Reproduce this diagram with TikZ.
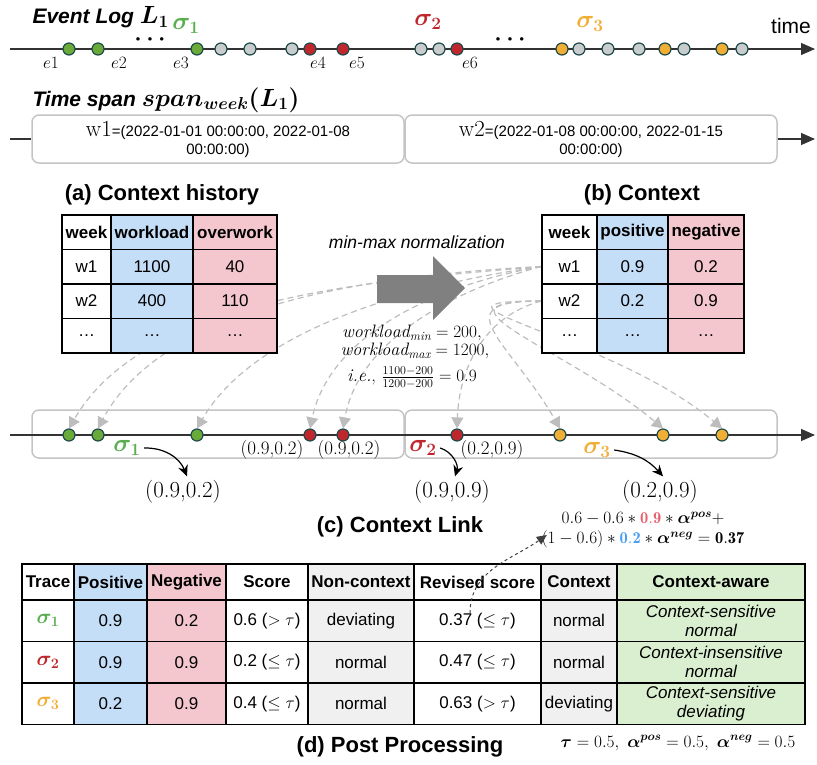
\documentclass[tikz,border=0pt]{standalone}
\usepackage{fontspec}
\setsansfont{Liberation Sans}
\usepackage{amsmath,bm}
\usetikzlibrary{arrows.meta}
\pgfdeclarelayer{background}
\pgfsetlayers{background,main}

\definecolor{evgreen}{HTML}{6AAA3A}
\definecolor{evred}{HTML}{C0272D}
\definecolor{evorange}{HTML}{F0AE35}
\definecolor{evgrey}{HTML}{C8CCCC}
\definecolor{evborder}{HTML}{1F4A4A}
\definecolor{sigmagreen}{HTML}{5AAE50}
\definecolor{cellblue}{HTML}{C5DEF7}
\definecolor{cellpink}{HTML}{F4C6CD}
\definecolor{cellgrey}{HTML}{F0F0F0}
\definecolor{cellgreen}{HTML}{DAEFD0}
\definecolor{linkgrey}{HTML}{BDBDBD}
\definecolor{boxgrey}{HTML}{C4C4C4}
\definecolor{arrowgrey}{HTML}{808080}
\definecolor{numred}{HTML}{E8606E}
\definecolor{numblue}{HTML}{4A9EF0}

\newcommand{\tabfont}{\sffamily\fontsize{17}{19}\selectfont}

\tikzset{
  ev/.style={circle, draw=evborder, line width=1.2pt, minimum size=12pt, inner sep=0pt},
  tcell/.style={draw=black, line width=1.5pt, inner sep=0pt, font=\tabfont, align=center},
  title/.style={font=\sffamily\bfseries\fontsize{22}{24}\selectfont},
  spanbox/.style={draw=boxgrey, line width=1.5pt, rounded corners=7pt, minimum width=372pt, minimum height=48pt, inner sep=0pt, align=center},
  ctxlink/.style={draw=linkgrey, line width=1.2pt, dash pattern=on 6pt off 4pt, -{Triangle[width=12pt,length=11pt]}},
  bendarrow/.style={line width=1.2pt, -{Stealth[length=11pt,width=10pt]}},
  timeline/.style={draw=black!80, line width=1.3pt, -{Triangle[width=12pt,length=14pt]}},
  elabel/.style={font=\fontsize{18}{18}\selectfont},
  sigma/.style={font=\fontsize{25}{26}\selectfont},
  mathline/.style={inner sep=0.5pt, font=\fontsize{18}{18}\selectfont},
  % table columns
  aweek/.style={tcell, minimum width=49pt, minimum height=34.5pt},
  awork/.style={tcell, fill=cellblue, minimum width=82pt, minimum height=34.5pt},
  aover/.style={tcell, fill=cellpink, minimum width=84pt, minimum height=34.5pt},
  bweek/.style={tcell, fill=white, minimum width=55pt, minimum height=34.5pt},
  bpos/.style={tcell, fill=cellblue, minimum width=71pt, minimum height=34.5pt},
  bneg/.style={tcell, fill=cellpink, minimum width=76pt, minimum height=34.5pt},
  dhead/.style={minimum height=36pt, font=\tabfont\bfseries},
  drow/.style={minimum height=41.5pt}
}

\begin{document}
\begin{tikzpicture}[x=1pt, y=1pt]
\useasboundingbox (0,0) rectangle (817,-764);

% ---- event log timeline
\coordinate (tl-start) at (10,-49);
\coordinate (tl-end) at (815,-49);
\draw[timeline] (tl-start) -- (tl-end);
\node[font=\sffamily\fontsize{21}{22}\selectfont] (time-label) at (791,-26) {time};
\node[anchor=west, font=\sffamily\bfseries\itshape\fontsize{21}{22}\selectfont] (eventlog-title) at (29,-17) {Event Log {\fontsize{24}{24}\selectfont$\bm{L_1}$}};

\node[ev, fill=evgreen] (ev1) at (69,-49) {};
\node[ev, fill=evgreen] (ev2) at (98,-49) {};
\node[ev, fill=evgreen] (ev3) at (197,-49) {};
\node[ev, fill=evgrey] (ev4) at (221,-49) {};
\node[ev, fill=evgrey] (ev5) at (250,-49) {};
\node[ev, fill=evgrey] (ev6) at (292,-49) {};
\node[ev, fill=evred] (ev7) at (310,-49) {};
\node[ev, fill=evred] (ev8) at (343,-49) {};
\node[ev, fill=evgrey] (ev9) at (421,-49) {};
\node[ev, fill=evgrey] (ev10) at (439,-49) {};
\node[ev, fill=evred] (ev11) at (457,-49) {};
\node[ev, fill=evorange] (ev12) at (562,-49) {};
\node[ev, fill=evgrey] (ev13) at (579,-49) {};
\node[ev, fill=evgrey] (ev14) at (608,-49) {};
\node[ev, fill=evgrey] (ev15) at (639,-49) {};
\node[ev, fill=evorange] (ev16) at (665,-49) {};
\node[ev, fill=evgrey] (ev17) at (684,-49) {};
\node[ev, fill=evorange] (ev18) at (722,-49) {};
\node[ev, fill=evgrey] (ev19) at (742,-49) {};

\node[font=\fontsize{13}{13}\selectfont] (dots1) at (150,-40) {\textbullet\hspace{2pt}\textbullet\hspace{2pt}\textbullet};
\node[font=\fontsize{13}{13}\selectfont] (dots2) at (510,-40) {\textbullet\hspace{2pt}\textbullet\hspace{2pt}\textbullet};

\node[elabel] (e1-label) at (51,-63) {$e1$};
\node[elabel] (e2-label) at (119,-63) {$e2$};
\node[elabel] (e3-label) at (181,-63) {$e3$};
\node[elabel] (e4-label) at (318,-63) {$e4$};
\node[elabel] (e5-label) at (357,-63) {$e5$};
\node[elabel] (e6-label) at (470,-63) {$e6$};

\node[sigma, text=sigmagreen] (top-sigma1) at (186,-26) {$\bm{\sigma_1}$};
\node[sigma, text=evred] (top-sigma2) at (428,-22) {$\bm{\sigma_2}$};
\node[sigma, text=evorange] (top-sigma3) at (590,-24) {$\bm{\sigma_3}$};

% ---- time span
\node[anchor=west, font=\sffamily\bfseries\itshape\fontsize{21}{22}\selectfont] (span-title) at (29,-100) {Time span {\fontsize{24}{24}\selectfont$\bm{span_{week}(L_1)}$}};
\node[spanbox, font=\sffamily\fontsize{15}{18}\selectfont] (span-w1) at (218,-139) {{\rmfamily\fontsize{23}{18}\selectfont w1}=(2022-01-01 00:00:00, 2022-01-08\\00:00:00)};
\node[spanbox, font=\sffamily\fontsize{15}{18}\selectfont] (span-w2) at (591,-139) {{\rmfamily\fontsize{23}{18}\selectfont w2}=(2022-01-08 00:00:00, 2022-01-15\\00:00:00)};
\coordinate (span-start) at (10,-139);
\coordinate (span-end) at (815,-139);
\draw[draw=black!80, line width=1.3pt] (span-start) -- (span-w1.west);
\draw[timeline] (span-w2.east) -- (span-end);

% ---- (a) context history
\node[title] (hist-title) at (162,-195) {(a) Context history};
\node[aweek, fill=white, font=\tabfont\bfseries] (a-week) at (86.5,-232) {week};
\node[awork, font=\tabfont\bfseries] (a-workload) at (152,-232) {workload};
\node[aover, font=\tabfont\bfseries] (a-overwork) at (235,-232) {overwork};
\node[aweek, fill=white] (a-w1) at (86.5,-266.5) {w1};
\node[awork] (a-w1-work) at (152,-266.5) {1100};
\node[aover] (a-w1-over) at (235,-266.5) {40};
\node[aweek, fill=white] (a-w2) at (86.5,-301) {w2};
\node[awork] (a-w2-work) at (152,-301) {400};
\node[aover] (a-w2-over) at (235,-301) {110};
\node[aweek, fill=white] (a-etc) at (86.5,-335.5) {…};
\node[awork] (a-etc-work) at (152,-335.5) {…};
\node[aover] (a-etc-over) at (235,-335.5) {…};

% ---- normalization
\node[font=\sffamily\itshape\fontsize{17.5}{19}\selectfont] (norm-label) at (417,-242) {min-max normalization};
\fill[arrowgrey] (377,-275) -- (433,-275) -- (433,-256) -- (465,-288) -- (433,-320) -- (433,-303) -- (377,-303) -- cycle;
\node[mathline] (norm-min) at (412,-333) {$\mathit{workload}_{\mathit{min}}=200,$};
\node[mathline] (norm-max) at (415,-351) {$\mathit{workload}_{\mathit{max}}=1200,$};
\node[mathline] (norm-ie) at (412,-378) {\textit{i.e.}, $\frac{1100-200}{1200-200}=0.9$};

% ---- (b) context
\node[title] (ctx-title) at (642,-195) {(b) Context};
\node[bweek, font=\tabfont\bfseries] (b-week) at (569.5,-232) {week};
\node[bpos, font=\tabfont\bfseries] (b-positive) at (632.5,-232) {positive};
\node[bneg, font=\tabfont\bfseries] (b-negative) at (706,-232) {negative};
\node[bweek] (b-w1) at (569.5,-266.5) {w1};
\node[bpos] (b-w1-pos) at (632.5,-266.5) {0.9};
\node[bneg] (b-w1-neg) at (706,-266.5) {0.2};
\node[bweek] (b-w2) at (569.5,-301) {w2};
\node[bpos] (b-w2-pos) at (632.5,-301) {0.2};
\node[bneg] (b-w2-neg) at (706,-301) {0.9};
\node[bweek] (b-etc) at (569.5,-335.5) {…};
\node[bpos] (b-etc-pos) at (632.5,-335.5) {…};
\node[bneg] (b-etc-neg) at (706,-335.5) {…};

% ---- (c) context link
\node[spanbox] (link-w1) at (218,-434) {};
\node[spanbox] (link-w2) at (591,-434) {};
\coordinate (lk-start) at (10,-435);
\coordinate (lk-end) at (815,-435);
\draw[timeline] (lk-start) -- (lk-end);
\node[ev, fill=evgreen] (lk1) at (69,-435) {};
\node[ev, fill=evgreen] (lk2) at (98,-435) {};
\node[ev, fill=evgreen] (lk3) at (197,-435) {};
\node[ev, fill=evred] (lk4) at (310,-435) {};
\node[ev, fill=evred] (lk5) at (343,-435) {};
\node[ev, fill=evred] (lk6) at (457,-435) {};
\node[ev, fill=evorange] (lk7) at (560,-435) {};
\node[ev, fill=evorange] (lk8) at (663,-435) {};
\node[ev, fill=evorange] (lk9) at (722,-435) {};

\begin{pgfonlayer}{background}
\draw[ctxlink] (b-w1.west) to[out=185, in=60, looseness=0.8] (lk1.north);
\draw[ctxlink] (b-w1.west) to[out=183, in=62, looseness=0.8] (lk2.north);
\draw[ctxlink] (b-w1.west) to[out=188, in=60, looseness=0.8] (lk3.north);
\draw[ctxlink] (b-w1.west) to[out=190, in=78, looseness=0.9] (lk4.north);
\draw[ctxlink] (b-w1.west) to[out=195, in=80, looseness=0.9] (lk5.north);
\draw[ctxlink] (b-w2.west) to[out=195, in=88, looseness=1] (lk6.north);
\draw[ctxlink] (b-w2.west) to[out=180, in=120, looseness=2] (lk7.north);
\draw[ctxlink] (b-w2.west) to[out=180, in=140, looseness=1.8] (lk8.north);
\draw[ctxlink] (b-w2.west) to[out=180, in=140, looseness=1.7] (lk9.north);
\end{pgfonlayer}

\node[inner sep=1pt, font=\fontsize{19}{19}\selectfont] (lk4-value) at (272,-450) {(0.9,0.2)};
\node[inner sep=1pt, font=\fontsize{19}{19}\selectfont] (lk5-value) at (349,-450) {(0.9,0.2)};
\node[inner sep=1pt, font=\fontsize{19}{19}\selectfont] (lk6-value) at (492,-450) {(0.2,0.9)};

\node[sigma, text=sigmagreen] (link-sigma1) at (127,-448) {$\bm{\sigma_1}$};
\node[sigma, text=evred] (link-sigma2) at (423,-448) {$\bm{\sigma_2}$};
\node[sigma, text=evorange] (link-sigma3) at (597,-450) {$\bm{\sigma_3}$};
\node[inner sep=1pt, font=\fontsize{23}{23}\selectfont] (pair1) at (183,-492) {(0.9,0.2)};
\node[inner sep=1pt, font=\fontsize{23}{23}\selectfont] (pair2) at (452,-492) {(0.9,0.9)};
\node[inner sep=1pt, font=\fontsize{23}{23}\selectfont] (pair3) at (660,-492) {(0.2,0.9)};
\draw[bendarrow] (link-sigma1.east) to[bend left=35] ([xshift=4pt, yshift=3pt]pair1.north);
\draw[bendarrow] (link-sigma2.east) to[bend left=45] ([xshift=3pt, yshift=3pt]pair2.north);
\draw[bendarrow] (link-sigma3.east) to[bend left=20] ([xshift=3pt, yshift=3pt]pair3.north);

\node[title] (link-title) at (400,-527) {(c) Context Link};
\node[align=center, inner sep=0.5pt, font=\fontsize{16.5}{20}\selectfont] (score-formula) at (643,-530) {$0.6-0.6*\textcolor{numred}{\mathbf{0.9}}*\bm{\alpha^{pos}}+$\\$(1-0.6)*\textcolor{numblue}{\mathbf{0.2}}*\bm{\alpha^{neg}}=\mathbf{0.37}$};

% ---- (d) post processing
\node[tcell, dhead, fill=white, minimum width=52pt] (d-trace) at (48,-582) {Trace};
\node[tcell, dhead, fill=cellblue, minimum width=73pt] (d-positive) at (110.5,-582) {Positive};
\node[tcell, dhead, fill=cellpink, minimum width=79pt] (d-negative) at (186.5,-582) {Negative};
\node[tcell, dhead, fill=white, minimum width=82pt] (d-score) at (267,-582) {Score};
\node[tcell, dhead, fill=cellgrey, minimum width=106pt] (d-noncontext) at (361,-582) {Non-context};
\node[tcell, dhead, fill=white, minimum width=127pt] (d-revised) at (477.5,-582) {Revised score};
\node[tcell, dhead, fill=cellgrey, minimum width=76pt] (d-context) at (579,-582) {Context};
\node[tcell, dhead, fill=cellgreen, minimum width=188pt] (d-aware) at (711,-582) {Context-aware};

\node[tcell, drow, fill=white, minimum width=52pt, text=sigmagreen, font=\fontsize{21}{21}\selectfont] (d-s1) at (48,-620.75) {$\bm{\sigma_1}$};
\node[tcell, drow, fill=cellblue, minimum width=73pt] (d-s1-pos) at (110.5,-620.75) {0.9};
\node[tcell, drow, fill=cellpink, minimum width=79pt] (d-s1-neg) at (186.5,-620.75) {0.2};
\node[tcell, drow, fill=white, minimum width=82pt] (d-s1-score) at (267,-620.75) {0.6 ($>\tau$)};
\node[tcell, drow, fill=cellgrey, minimum width=106pt] (d-s1-non) at (361,-620.75) {deviating};
\node[tcell, drow, fill=white, minimum width=127pt] (d-s1-rev) at (477.5,-620.75) {0.37 ($\leq\tau$)};
\node[tcell, drow, fill=cellgrey, minimum width=76pt] (d-s1-ctx) at (579,-620.75) {normal};
\node[tcell, drow, fill=cellgreen, minimum width=188pt, font=\tabfont\itshape] (d-s1-aware) at (711,-620.75) {Context-sensitive\\normal};

\node[tcell, drow, fill=white, minimum width=52pt, text=evred, font=\fontsize{21}{21}\selectfont] (d-s2) at (48,-662.25) {$\bm{\sigma_2}$};
\node[tcell, drow, fill=cellblue, minimum width=73pt] (d-s2-pos) at (110.5,-662.25) {0.9};
\node[tcell, drow, fill=cellpink, minimum width=79pt] (d-s2-neg) at (186.5,-662.25) {0.9};
\node[tcell, drow, fill=white, minimum width=82pt] (d-s2-score) at (267,-662.25) {0.2 ($\leq\tau$)};
\node[tcell, drow, fill=cellgrey, minimum width=106pt] (d-s2-non) at (361,-662.25) {normal};
\node[tcell, drow, fill=white, minimum width=127pt] (d-s2-rev) at (477.5,-662.25) {0.47 ($\leq\tau$)};
\node[tcell, drow, fill=cellgrey, minimum width=76pt] (d-s2-ctx) at (579,-662.25) {normal};
\node[tcell, drow, fill=cellgreen, minimum width=188pt, font=\tabfont\itshape] (d-s2-aware) at (711,-662.25) {Context-insensitive\\normal};

\node[tcell, drow, fill=white, minimum width=52pt, text=evorange, font=\fontsize{21}{21}\selectfont] (d-s3) at (48,-703.75) {$\bm{\sigma_3}$};
\node[tcell, drow, fill=cellblue, minimum width=73pt] (d-s3-pos) at (110.5,-703.75) {0.2};
\node[tcell, drow, fill=cellpink, minimum width=79pt] (d-s3-neg) at (186.5,-703.75) {0.9};
\node[tcell, drow, fill=white, minimum width=82pt] (d-s3-score) at (267,-703.75) {0.4 ($\leq\tau$)};
\node[tcell, drow, fill=cellgrey, minimum width=106pt] (d-s3-non) at (361,-703.75) {normal};
\node[tcell, drow, fill=white, minimum width=127pt] (d-s3-rev) at (477.5,-703.75) {0.63 ($>\tau$)};
\node[tcell, drow, fill=cellgrey, minimum width=76pt] (d-s3-ctx) at (579,-703.75) {deviating};
\node[tcell, drow, fill=cellgreen, minimum width=188pt, font=\tabfont\itshape] (d-s3-aware) at (711,-703.75) {Context-sensitive\\deviating};

\coordinate (rev-from) at (470,-613);
\draw[black!75, line width=1pt, dashed, -{Triangle[width=9pt,length=10pt]}] (rev-from) to[out=90, in=215] ([xshift=6pt, yshift=-5pt]score-formula.west);

\node[title] (post-title) at (400,-747) {(d) Post Processing};
\node[font=\fontsize{17}{17}\selectfont] (param-label) at (678,-743) {$\bm{\tau}=0.5,\ \bm{\alpha^{pos}}=0.5,\ \bm{\alpha^{neg}}=0.5$};
\end{tikzpicture}
\end{document}
